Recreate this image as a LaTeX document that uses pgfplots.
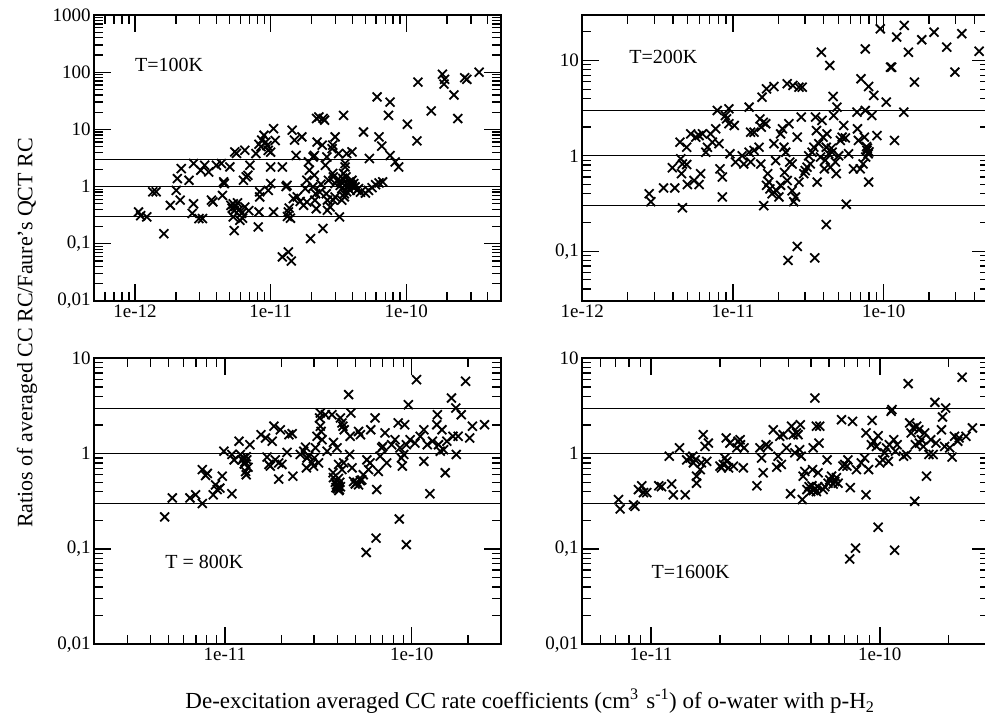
\documentclass[border=0pt]{standalone}
\usepackage{fontspec}
\setmainfont{Liberation Serif}
\usepackage{pgfplots}
\pgfplotsset{compat=1.18}
\usepgfplotslibrary{groupplots}

\pgfplotsset{
  panel/.style={
    scale only axis, width=406.7pt, height=286pt,
    xmode=log, ymode=log,
    axis line style={line width=1.7pt},
    tick style={black, line width=1.3pt},
    major tick length=17pt, minor tick length=9pt,
    tick label style={font=\fontsize{19}{22}\selectfont},
    /pgf/number format/assume math mode=true,
  },
  pts/.style={only marks, mark=x, mark size=6.3pt, line width=1.8pt, black},
  refl/.style={black, line width=1.2pt, no marks},
}

\begin{document}
\begin{tikzpicture}
\begin{groupplot}[group style={group size=2 by 2, horizontal sep=81.3pt, vertical sep=57.3pt}, panel]

% T = 100 K
\nextgroupplot[xmin=5e-13, xmax=5e-10, ymin=0.01, ymax=1000,
  xtick={1e-12,1e-11,1e-10}, xticklabels={1e-12,1e-11,1e-10},
  minor xtick={6e-13,7e-13,8e-13,9e-13,2e-12,3e-12,4e-12,5e-12,6e-12,7e-12,8e-12,9e-12,2e-11,3e-11,4e-11,5e-11,6e-11,7e-11,8e-11,9e-11,2e-10,3e-10,4e-10},
  ytick={0.01,0.1,1,10,100,1000}, yticklabels={{0,01},{0,1},1,10,100,1000},
  minor ytick={0.02,0.03,0.04,0.05,0.06,0.07,0.08,0.09,0.2,0.3,0.4,0.5,0.6,0.7,0.8,0.9,2,3,4,5,6,7,8,9,20,30,40,50,60,70,80,90,200,300,400,500,600,700,800,900}]
\addplot[refl] coordinates {(5e-13,0.3)(5e-10,0.3)};
\addplot[refl] coordinates {(5e-13,1)(5e-10,1)};
\addplot[refl] coordinates {(5e-13,3)(5e-10,3)};
\addplot[pts] coordinates {
(1.06e-12,0.36)(1.1e-12,0.31)(1.22e-12,0.295)(1.35e-12,0.81)(1.43e-12,0.81)(1.63e-12,0.15)(1.82e-12,0.47)(2.01e-12,0.86)(2.05e-12,1.38)(2.15e-12,0.58)(2.19e-12,2.06)(2.5e-12,1.29)(2.64e-12,0.34)(2.7e-12,0.5)(2.7e-12,2.53)(2.96e-12,0.276)(3.14e-12,0.276)(3.05e-12,1.93)(3.26e-12,2.36)(3.49e-12,1.8)(3.66e-12,0.58)(3.75e-12,0.54)(3.98e-12,2.36)(4.33e-12,2.53)(4.41e-12,0.7)(4.5e-12,1.21)(4.55e-12,1.13)(5.0e-12,2.21)
(5.1e-12,0.47)(5.2e-12,0.42)(5.3e-12,0.5)(5.4e-12,0.38)(5.5e-12,0.45)(5.3e-12,0.295)(5.38e-12,0.17)(5.7e-12,0.52)(5.9e-12,0.4)(5.93e-12,0.258)(6.1e-12,0.34)(6.45e-12,0.44)(6.2e-12,0.28)(6.9e-12,0.38)
(5.44e-12,4.04)(5.6e-12,3.8)(6.45e-12,4.32)(6.3e-12,1.29)(6.6e-12,1.48)(6.8e-12,1.58)(7.03e-12,2.36)(7.79e-12,3.78)(8.1e-12,0.197)(8.2e-12,0.36)(8.3e-12,0.66)(8.3e-12,0.81)
(8.2e-12,5.5)(8.5e-12,5.0)(8.6e-12,6.5)(8.93e-12,7.9)(9.2e-12,6.0)(9.4e-12,5.2)(9.6e-12,4.3)(1e-11,4.0)(1e-11,2.2)(1e-11,1.13)(9.6e-12,0.86)(1.05e-11,10.3)(1.08e-11,6.4)(1.05e-11,0.36)
(1.22e-11,2.2)(1.22e-11,0.059)(1.35e-11,0.072)(1.42e-11,0.05)(1.33e-11,0.3)(1.35e-11,0.36)(1.37e-11,0.42)(1.4e-11,0.28)(1.3e-11,1.0)(1.32e-11,1.05)(1.44e-11,9.7)(1.5e-11,6.5)(1.54e-11,3.5)(1.47e-11,0.62)(1.57e-11,0.66)(1.65e-11,0.55)(1.7e-11,7.4)(1.8e-11,0.92)(1.85e-11,1.29)(1.85e-11,0.54)(1.75e-11,0.47)(1.97e-11,0.123)(1.9e-11,2.7)(1.93e-11,1.93)(2.06e-11,3.3)(2.1e-11,3.5)(2.1e-11,1.58)(2.05e-11,0.99)(2.15e-11,0.75)(2.12e-11,0.58)(2.17e-11,0.41)(2.18e-11,15.5)(2.27e-11,16.5)(2.44e-11,15.5)(2.5e-11,14.5)(2.2e-11,6.0)(2.4e-11,5.3)(2.43e-11,0.185)(2.3e-11,0.8)(2.35e-11,1.1)
(2.53e-11,2.36)(2.6e-11,3.3)(2.67e-11,1.29)(2.57e-11,0.75)(2.62e-11,0.58)(2.75e-11,0.44)(2.62e-11,0.385)(2.87e-11,5.3)(2.99e-11,7.4)(2.84e-11,4.6)(2.87e-11,1.7)(2.9e-11,1.48)(2.99e-11,1.13)(2.99e-11,0.66)(2.9e-11,0.58)(3.1e-11,1.29)(3.17e-11,3.78)(3.26e-11,1.05)(3.35e-11,0.92)(3.45e-11,1.7)(3.45e-11,17.6)(3.22e-11,0.295)(3.54e-11,2.53)(3.54e-11,2.2)(3.6e-11,1.48)(3.5e-11,0.75)(3.64e-11,3.78)(3.73e-11,1.05)(3.8e-11,1.21)(3.98e-11,4.04)(3.86e-11,0.86)(3.98e-11,1.29)(4.1e-11,1.13)(4.2e-11,0.99)(4.33e-11,0.86)(4.45e-11,0.92)(3.5e-11,0.66)(3.35e-11,0.58)(3.64e-11,0.81)(3.3e-11,1.2)(3.7e-11,0.95)(4.0e-11,1.0)(3.4e-11,1.4)(3.9e-11,1.1)(4.6e-11,0.8)
(4.84e-11,9.0)(5.35e-11,3.1)(5.0e-11,0.77)(5.27e-11,0.86)(5.6e-11,0.96)(5.95e-11,1.08)(6.3e-11,1.16)(6.7e-11,1.21)(6.1e-11,37)(6.3e-11,7.4)(6.6e-11,5.1)(7.6e-11,30)(7.4e-11,17.6)(7.6e-11,3.5)(8.3e-11,2.7)(8.8e-11,2.2)(1.02e-10,12.3)(1.2e-10,6.3)(1.22e-10,67)(1.53e-10,21)(1.85e-10,92)(1.92e-10,75)(1.9e-10,62)(2.25e-10,40)(2.4e-10,15.5)(2.7e-10,80)(2.8e-10,75)(3.45e-10,100)
};
\node[anchor=west, font=\fontsize{20}{24}\selectfont] at (rel axis cs:0.092,0.825) {T=100K};

% T = 200 K
\nextgroupplot[xmin=1e-12, xmax=5e-10, ymin=0.03, ymax=30,
  xtick={1e-12,1e-11,1e-10}, xticklabels={1e-12,1e-11,1e-10},
  minor xtick={2e-12,3e-12,4e-12,5e-12,6e-12,7e-12,8e-12,9e-12,2e-11,3e-11,4e-11,5e-11,6e-11,7e-11,8e-11,9e-11,2e-10,3e-10,4e-10},
  ytick={0.1,1,10}, yticklabels={{0,1},1,10},
  minor ytick={0.04,0.05,0.06,0.07,0.08,0.09,0.2,0.3,0.4,0.5,0.6,0.7,0.8,0.9,2,3,4,5,6,7,8,9,20}]
\addplot[refl] coordinates {(1e-12,0.3)(5e-10,0.3)};
\addplot[refl] coordinates {(1e-12,1)(5e-10,1)};
\addplot[refl] coordinates {(1e-12,3)(5e-10,3)};
\addplot[pts] coordinates {
(2.78e-12,0.4)(2.85e-12,0.33)(3.46e-12,0.46)(4.11e-12,0.46)(3.96e-12,0.75)(4.45e-12,1.39)(4.5e-12,0.93)(4.62e-12,0.82)(4.55e-12,0.65)(4.62e-12,0.285)(4.93e-12,1.23)(4.93e-12,0.81)(4.98e-12,0.5)(5.24e-12,1.7)(5.52e-12,0.55)(5.66e-12,1.57)(5.96e-12,1.63)(5.96e-12,0.5)(6.1e-12,0.65)(6.27e-12,1.7)(6.6e-12,1.09)(6.77e-12,1.23)(7.1e-12,1.7)(7.3e-12,1.39)(7.68e-12,1.92)(7.87e-12,2.99)(8.08e-12,1.34)(8.2e-12,0.73)(8.5e-12,0.6)(8.5e-12,0.37)(8.9e-12,2.65)(9.07e-12,2.44)(9.4e-12,3.11)(9.4e-12,2.17)(9.55e-12,1.05)
(1.02e-11,2.08)(1.04e-11,0.86)(1.15e-11,1.0)(1.18e-11,0.82)(1.28e-11,3.24)(1.28e-11,1.09)(1.31e-11,1.77)(1.31e-11,0.86)(1.38e-11,1.77)(1.38e-11,1.14)(1.49e-11,1.23)(1.51e-11,2.44)(1.53e-11,0.82)(1.54e-11,2.0)(1.56e-11,4.12)(1.59e-11,2.25)(1.6e-11,0.3)(1.65e-11,2.17)(1.67e-11,5.04)(1.67e-11,0.49)(1.7e-11,0.65)(1.73e-11,0.53)(1.76e-11,0.45)(1.82e-11,0.4)(1.87e-11,5.33)(1.87e-11,1.34)(1.92e-11,0.89)(1.95e-11,0.43)(2.02e-11,0.37)(2.07e-11,1.7)(2.07e-11,0.49)(2.13e-11,1.92)(2.18e-11,1.23)(2.2e-11,0.67)(2.24e-11,1.09)(2.29e-11,5.7)(2.29e-11,0.55)(2.32e-11,0.08)(2.35e-11,2.17)(2.38e-11,0.86)(2.47e-11,0.82)(2.47e-11,0.43)(2.5e-11,5.47)(2.53e-11,0.33)(2.6e-11,0.37)(2.67e-11,0.112)(2.67e-11,1.57)(2.74e-11,5.25)(2.74e-11,0.53)(2.88e-11,5.25)(2.84e-11,2.55)(2.95e-11,0.65)
(3.02e-11,0.7)(3.1e-11,0.76)(3.18e-11,1.0)(3.26e-11,0.82)(3.35e-11,1.09)(3.44e-11,1.23)(3.49e-11,0.085)(3.53e-11,2.55)(3.58e-11,1.84)(3.62e-11,0.53)(3.71e-11,1.34)(3.81e-11,0.97)(3.86e-11,12.2)(3.9e-11,2.35)(3.96e-11,1.57)(4.04e-11,0.73)(4.16e-11,0.19)(4.16e-11,1.23)(4.2e-11,1.7)(4.32e-11,1.05)(4.39e-11,8.87)(4.43e-11,0.76)(4.55e-11,1.09)(4.62e-11,4.19)(4.66e-11,2.65)(4.78e-11,0.86)(4.85e-11,0.65)(4.9e-11,3.24)(5.03e-11,1.0)(5.16e-11,1.45)(5.3e-11,1.57)(5.43e-11,2.08)(5.57e-11,1.54)(5.65e-11,0.31)(5.85e-11,1.05)(4.5e-11,1.2)(4.1e-11,0.9)
(6.3e-11,0.73)(6.65e-11,2.87)(6.7e-11,1.92)(6.8e-11,1.45)(6.99e-11,0.73)(7.07e-11,6.43)(7.3e-11,0.82)(7.45e-11,1.57)(7.55e-11,13.2)(7.55e-11,2.99)(7.75e-11,1.14)(7.95e-11,5.33)(7.95e-11,0.53)(7.7e-11,1.25)(7.9e-11,1.05)(7.6e-11,0.97)(7.8e-11,1.2)(8.0e-11,1.1)(8.35e-11,2.65)(8.6e-11,4.3)(9.03e-11,1.63)(9.5e-11,21.5)
(1.04e-10,3.66)(1.11e-10,8.5)(1.13e-10,8.5)(1.18e-10,1.45)(1.22e-10,17.6)(1.36e-10,2.87)(1.37e-10,23.3)(1.46e-10,12.2)(1.6e-10,5.93)(1.79e-10,16.5)(2.16e-10,19.8)(2.62e-10,13.8)(2.97e-10,7.55)(3.3e-10,19.1)(4.3e-10,12.5)
};
\node[anchor=west, font=\fontsize{20}{24}\selectfont] at (rel axis cs:0.107,0.853) {T=200K};

% T = 800 K
\nextgroupplot[xmin=2e-12, xmax=3e-10, ymin=0.01, ymax=10,
  xtick={1e-11,1e-10}, xticklabels={1e-11,1e-10},
  minor xtick={3e-12,4e-12,5e-12,6e-12,7e-12,8e-12,9e-12,2e-11,3e-11,4e-11,5e-11,6e-11,7e-11,8e-11,9e-11,2e-10},
  ytick={0.01,0.1,1,10}, yticklabels={{0,01},{0,1},1,10},
  minor ytick={0.02,0.03,0.04,0.05,0.06,0.07,0.08,0.09,0.2,0.3,0.4,0.5,0.6,0.7,0.8,0.9,2,3,4,5,6,7,8,9}]
\addplot[refl] coordinates {(2e-12,0.3)(3e-10,0.3)};
\addplot[refl] coordinates {(2e-12,1)(3e-10,1)};
\addplot[refl] coordinates {(2e-12,3)(3e-10,3)};
\addplot[pts] coordinates {
(4.76e-12,0.217)(5.23e-12,0.343)(6.5e-12,0.343)(6.97e-12,0.37)(7.57e-12,0.30)(7.57e-12,0.68)(7.88e-12,0.59)(8.05e-12,0.62)(8.66e-12,0.37)(8.91e-12,0.47)(9.1e-12,0.42)(9.4e-12,0.435)(9.68e-12,0.58)(9.88e-12,1.06)
(1.09e-11,0.98)(1.09e-11,0.38)(1.12e-11,0.86)(1.19e-11,1.35)(1.21e-11,0.98)(1.24e-11,0.86)(1.26e-11,0.9)(1.28e-11,0.82)(1.3e-11,0.93)(1.27e-11,0.78)(1.31e-11,0.86)(1.33e-11,0.72)(1.3e-11,0.6)(1.29e-11,0.65)(1.36e-11,1.24)(1.56e-11,1.58)(1.65e-11,1.46)(1.68e-11,0.92)(1.72e-11,0.77)(1.75e-11,0.74)(1.79e-11,1.35)(1.83e-11,1.94)(1.86e-11,0.86)(1.94e-11,0.8)(1.98e-11,1.78)(1.94e-11,0.54)(2.02e-11,0.77)(2.15e-11,1.03)(2.2e-11,1.58)(2.29e-11,1.62)(2.31e-11,0.58)
(2.53e-11,0.98)(2.64e-11,1.06)(2.7e-11,1.17)(2.73e-11,0.71)(2.75e-11,0.9)(2.81e-11,0.95)(2.93e-11,0.8)(2.98e-11,0.74)(3.01e-11,0.9)(3.05e-11,1.15)(3.11e-11,1.52)(3.17e-11,0.8)(3.21e-11,2.37)(3.24e-11,1.94)(3.27e-11,1.71)(3.31e-11,1.4)(3.24e-11,2.67)(3.45e-11,2.56)(3.52e-11,1.06)(3.74e-11,2.56)(3.81e-11,1.31)(3.79e-11,0.63)(3.81e-11,0.56)
(3.9e-11,0.5)(3.95e-11,0.47)(4.0e-11,0.43)(3.93e-11,0.44)(4.03e-11,0.45)(4.07e-11,0.41)(4.1e-11,0.42)(4.15e-11,0.45)(4.12e-11,0.5)(4.05e-11,0.55)(3.98e-11,1.15)(4.06e-11,0.77)(4.15e-11,2.37)(4.23e-11,2.1)(4.28e-11,1.94)(4.35e-11,1.78)(4.32e-11,0.8)(4.23e-11,0.68)(4.59e-11,4.16)(4.65e-11,0.98)(4.72e-11,2.67)(4.68e-11,1.52)(4.79e-11,0.71)(4.88e-11,0.51)
(4.98e-11,0.48)(5.08e-11,0.5)(5.19e-11,0.47)(5.3e-11,0.52)(5.4e-11,0.53)(5.19e-11,1.71)(5.31e-11,1.58)(5.5e-11,0.6)(5.7e-11,0.092)(5.75e-11,0.86)(5.87e-11,0.68)(5.98e-11,0.8)(6.03e-11,1.78)(6.36e-11,2.37)(6.44e-11,0.13)(6.49e-11,0.42)(6.62e-11,0.65)(6.77e-11,0.94)(6.91e-11,1.15)(6.99e-11,1.19)(7.19e-11,1.65)(7.34e-11,0.8)(7.8e-11,1.24)(8.13e-11,1.4)(8.46e-11,2.1)(8.57e-11,0.206)(8.64e-11,1.15)(8.8e-11,0.9)(8.9e-11,0.74)(9.06e-11,0.98)(9.16e-11,2.01)(9.35e-11,0.111)(9.35e-11,1.24)(9.58e-11,3.26)(9.8e-11,1.4)
(1.04e-10,1.29)(1.06e-10,5.97)(1.11e-10,1.52)(1.16e-10,0.83)(1.16e-10,1.78)(1.21e-10,1.24)(1.25e-10,0.38)(1.29e-10,1.35)(1.36e-10,2.01)(1.37e-10,2.56)(1.39e-10,1.24)(1.42e-10,1.06)(1.45e-10,1.78)(1.48e-10,1.1)(1.51e-10,0.63)(1.54e-10,1.35)(1.63e-10,3.83)(1.66e-10,1.52)(1.72e-10,3.01)(1.73e-10,0.98)(1.77e-10,1.52)(1.84e-10,2.56)(1.94e-10,5.74)(2.04e-10,1.46)(2.11e-10,1.94)(2.45e-10,2.01)
};
\node[anchor=west, font=\fontsize{20}{24}\selectfont] at (rel axis cs:0.166,0.288) {T = 800K};

% T = 1600 K
\nextgroupplot[xmin=5e-12, xmax=3e-10, ymin=0.01, ymax=10,
  xtick={1e-11,1e-10}, xticklabels={1e-11,1e-10},
  minor xtick={6e-12,7e-12,8e-12,9e-12,2e-11,3e-11,4e-11,5e-11,6e-11,7e-11,8e-11,9e-11,2e-10},
  ytick={0.01,0.1,1,10}, yticklabels={{0,01},{0,1},1,10},
  minor ytick={0.02,0.03,0.04,0.05,0.06,0.07,0.08,0.09,0.2,0.3,0.4,0.5,0.6,0.7,0.8,0.9,2,3,4,5,6,7,8,9}]
\addplot[refl] coordinates {(5e-12,0.3)(3e-10,0.3)};
\addplot[refl] coordinates {(5e-12,1)(3e-10,1)};
\addplot[refl] coordinates {(5e-12,3)(3e-10,3)};
\addplot[pts] coordinates {
(7.2e-12,0.33)(7.32e-12,0.263)(8.37e-12,0.29)(8.5e-12,0.28)(8.8e-12,0.42)(9.1e-12,0.46)(9.26e-12,0.39)(9.57e-12,0.39)
(1.08e-11,0.46)(1.11e-11,0.45)(1.2e-11,0.94)(1.23e-11,0.48)(1.25e-11,0.37)(1.33e-11,1.15)(1.41e-11,0.37)(1.43e-11,0.86)(1.48e-11,0.9)(1.52e-11,0.94)(1.53e-11,0.8)(1.56e-11,0.86)(1.58e-11,0.58)(1.58e-11,0.49)(1.64e-11,0.68)(1.66e-11,0.8)(1.69e-11,1.58)(1.72e-11,1.19)(1.75e-11,0.83)(1.78e-11,1.29)
(2.0e-11,0.74)(2.03e-11,0.71)(2.07e-11,0.77)(2.1e-11,0.9)(2.13e-11,1.46)(2.14e-11,0.83)(2.18e-11,0.71)(2.21e-11,1.29)(2.29e-11,0.74)(2.37e-11,1.15)(2.4e-11,1.35)(2.45e-11,1.4)(2.46e-11,1.24)(2.53e-11,0.71)(2.55e-11,1.15)
(2.9e-11,0.46)(2.99e-11,1.15)(3.04e-11,0.9)(3.09e-11,0.63)(3.18e-11,1.24)(3.25e-11,1.19)(3.42e-11,1.78)(3.54e-11,0.72)(3.59e-11,0.94)(3.65e-11,1.52)(3.71e-11,0.77)(3.78e-11,1.58)(3.91e-11,1.15)(4.07e-11,0.38)(4.11e-11,1.94)(4.18e-11,1.58)(4.25e-11,1.02)(4.32e-11,1.65)(4.39e-11,1.58)(4.46e-11,1.1)(4.49e-11,2.01)(4.53e-11,0.94)(4.58e-11,0.33)(4.62e-11,0.58)(4.7e-11,0.65)
(4.8e-11,0.42)(4.9e-11,0.45)(4.98e-11,0.4)(5.05e-11,0.46)(5.12e-11,0.41)(5.2e-11,0.43)(5.28e-11,0.4)(5.35e-11,0.45)(5.08e-11,0.68)(5.11e-11,1.15)(5.2e-11,3.83)(5.28e-11,1.94)(5.37e-11,0.63)(5.42e-11,1.29)(5.46e-11,1.94)(5.65e-11,0.42)(5.75e-11,0.45)(5.88e-11,0.86)(5.94e-11,0.49)(6.04e-11,0.53)(6.15e-11,0.58)(6.25e-11,0.48)(6.35e-11,0.51)(6.46e-11,0.56)(6.57e-11,0.49)(6.8e-11,2.27)(6.9e-11,0.74)(7.02e-11,0.77)(7.18e-11,0.74)(7.25e-11,0.86)(7.38e-11,0.0785)(7.43e-11,0.44)(7.6e-11,2.18)(7.83e-11,0.102)(7.9e-11,0.68)
(8.3e-11,0.8)(8.58e-11,0.9)(8.7e-11,1.65)(8.7e-11,0.37)(8.93e-11,0.68)(9.18e-11,1.24)(9.25e-11,2.23)(9.39e-11,1.35)(9.66e-11,1.19)(9.83e-11,1.54)(9.83e-11,0.169)(1.0e-10,0.8)(1.03e-10,0.86)(1.05e-10,1.02)(1.07e-10,1.15)(1.09e-10,0.83)(1.1e-10,1.24)(1.12e-10,2.78)(1.13e-10,2.9)(1.15e-10,1.4)(1.16e-10,0.097)(1.17e-10,1.06)(1.19e-10,1.24)
(1.27e-10,0.94)(1.31e-10,0.98)(1.33e-10,5.42)(1.35e-10,2.1)(1.37e-10,1.65)(1.4e-10,1.86)(1.42e-10,0.316)(1.43e-10,1.24)(1.45e-10,1.94)(1.48e-10,1.78)(1.49e-10,1.29)(1.52e-10,1.4)(1.55e-10,1.19)(1.57e-10,1.65)(1.6e-10,0.58)(1.64e-10,0.98)(1.67e-10,1.4)(1.71e-10,0.98)(1.74e-10,3.45)(1.76e-10,1.29)(1.86e-10,1.78)(1.88e-10,2.42)(1.92e-10,1.19)(1.94e-10,3.01)(2.02e-10,1.15)(2.07e-10,0.92)(2.12e-10,1.52)(2.19e-10,1.35)(2.22e-10,1.46)(2.29e-10,6.32)(2.38e-10,1.52)(2.54e-10,1.86)
};
\node[anchor=west, font=\fontsize{20}{24}\selectfont] at (rel axis cs:0.162,0.253) {T=1600K};
\end{groupplot}

% shared axis titles, placed from the top-left panel's corner
\node[rotate=90, font=\fontsize{22}{26}\selectfont] at ([shift={(-67.3pt,-318pt)}]group c1r1.north west) {Ratios of averaged CC RC/Faure's QCT RC};
\node[font=\fontsize{23}{27}\selectfont] at ([shift={(435.7pt,-686pt)}]group c1r1.north west) {De-excitation averaged CC rate coefficients (cm\textsuperscript{3}\,\,s\textsuperscript{-1}) of o-water with p-H\textsubscript{2}};

\pgfresetboundingbox
\path[use as bounding box] ([shift={(-94.3pt,15pt)}]group c1r1.north west) rectangle ([shift={(890.7pt,-704pt)}]group c1r1.north west);
\end{tikzpicture}
\end{document}
